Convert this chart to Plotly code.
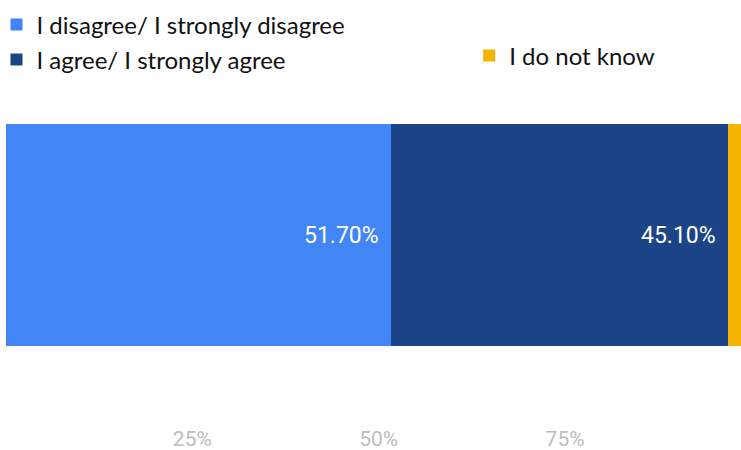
import plotly.graph_objects as go

# Survey response shares (percent of respondents)
categories = ["I disagree/ I strongly disagree", "I agree/ I strongly agree", "I do not know"]
shares = [51.70, 45.10, 3.20]
colors = ["#4285F4", "#1C4587", "#F4B400"]
label_shown = [True, True, False]

tick_values = [25, 50, 75]
tick_labels = ["25%", "50%", "75%"]

W, H = 741, 450
ML = 5.5
PW = W - ML

fig = go.Figure()

legend_names = ["legend", "legend2", "legend3"]
for name, val, col, leg in zip(categories, shares, colors, legend_names):
    fig.add_trace(go.Bar(
        x=[val], y=[0], orientation="h", name=name,
        marker=dict(color=col, line=dict(width=0)),
        width=1, legend=leg, hoverinfo="skip",
    ))

# Value labels, right-aligned inside each segment
left = 0
for val, show in zip(shares, label_shown):
    right = left + val
    if show:
        fig.add_annotation(
            x=right, y=0, xref="x", yref="y", text=f"{val:.2f}%",
            showarrow=False, xanchor="right", yanchor="middle", xshift=-10,
            font=dict(family="Roboto", size=23, color="#FFFFFF"),
        )
    left = right

legend_font = dict(family="Lato", size=24, color="#111111")
legend_common = dict(xref="paper", yref="container", xanchor="left", yanchor="middle",
                     bgcolor="rgba(0,0,0,0)", borderwidth=0, font=legend_font,
                     itemclick=False, itemdoubleclick=False)

fig.update_layout(
    width=W, height=H,
    margin=dict(l=ML, r=0, t=100, b=28, autoexpand=False),
    paper_bgcolor="white", plot_bgcolor="white",
    barmode="stack",
    showlegend=True,
    legend=dict(x=(-4 - ML) / PW, y=1 - 25 / H, **legend_common),
    legend2=dict(x=(-4 - ML) / PW, y=1 - 60 / H, **legend_common),
    legend3=dict(x=(469 - ML) / PW, y=1 - 56 / H, **legend_common),
    xaxis=dict(
        range=[0, PW / 7.46], showgrid=False, zeroline=False, showline=False,
        tickvals=tick_values, ticktext=tick_labels, ticks="",
        ticklabelstandoff=2,
        tickfont=dict(family="Roboto", size=21, color="#BDBDBD"),
    ),
    yaxis=dict(range=[-0.845, 0.61], showgrid=False, zeroline=False, showline=False,
               showticklabels=False, fixedrange=True),
)

fig.write_html("out.html")
